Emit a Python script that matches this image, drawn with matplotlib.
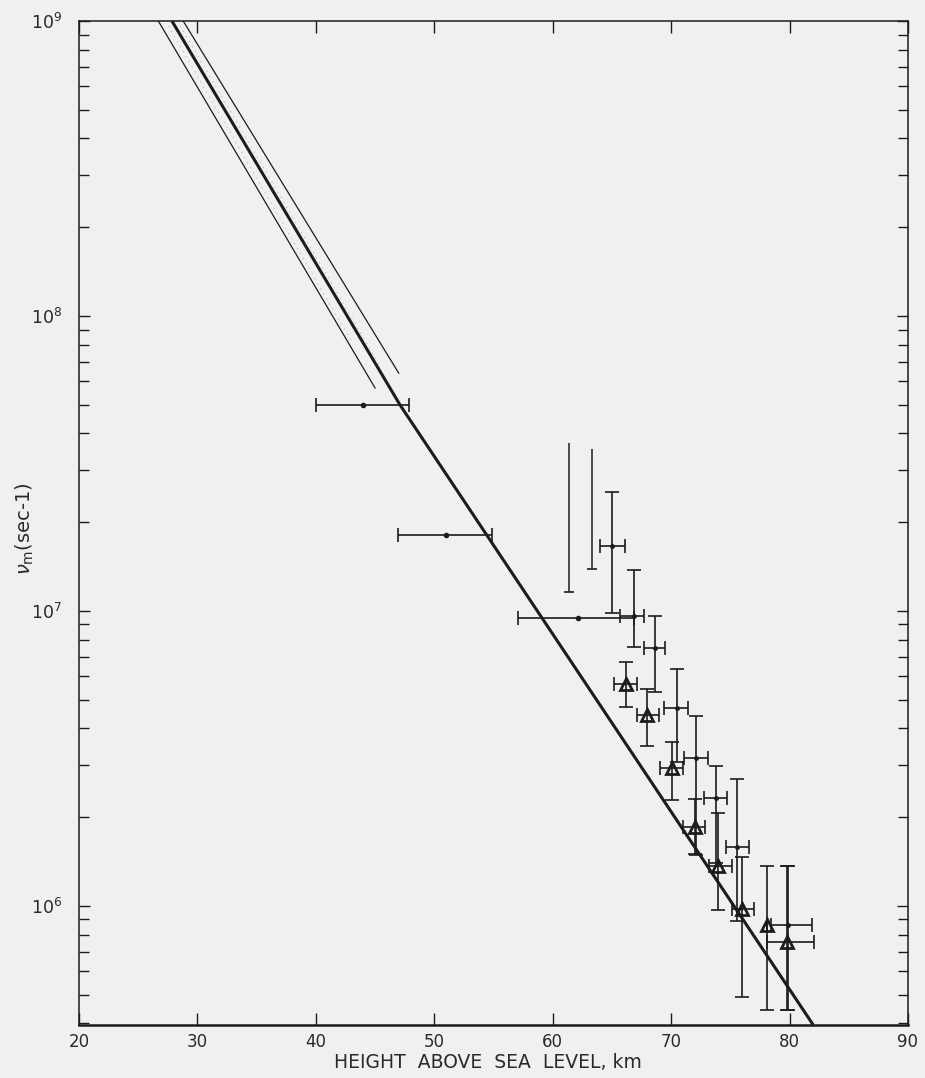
import matplotlib
matplotlib.use('Agg')
import matplotlib.pyplot as plt
import numpy as np
from matplotlib.ticker import LogLocator, FixedLocator, NullFormatter, FuncFormatter

# main curve (thick) and the two thin bounding curves
line_km = [27.85, 47.1, 82.0]
line_nu = [1.0e9, 5.0e7, 3.95e5]
upper_km = [28.8, 47.0]
upper_nu = [1.0e9, 6.4e7]
lower_km = [26.7, 45.0]
lower_nu = [1.0e9, 5.7e7]
dot_up_km = [28.3, 45.4]
dot_up_nu = [1.0e9, 6.8e7]
dot_lo_km = [27.3, 43.0]
dot_lo_nu = [1.0e9, 8.2e7]

# points with horizontal bars only
h_km = [44.0, 51.0, 62.1]
h_nu = [5.0e7, 1.81e7, 9.5e6]
h_lo = [40.0, 46.9, 57.1]
h_hi = [47.9, 54.9, 66.9]

# crosses (both bars)
c_km = [65.0, 66.9, 68.6, 70.5, 72.1, 73.75, 75.6, 79.85]
c_nu = [1.66e7, 9.6e6, 7.5e6, 4.69e6, 3.18e6, 2.32e6, 1.58e6, 8.6e5]
c_xlo = [64.0, 65.7, 67.7, 69.4, 71.1, 72.8, 74.6, 78.4]
c_xhi = [66.1, 67.7, 69.5, 71.4, 73.1, 74.7, 76.6, 81.9]
c_ylo = [9.86e6, 7.55e6, 5.3e6, 3.07e6, 1.49e6, 1.40e6, 8.9e5, 4.43e5]
c_yhi = [2.53e7, 1.38e7, 9.64e6, 6.36e6, 4.4e6, 2.99e6, 2.69e6, 1.37e6]

# vertical bars with no centre point
v_km = [61.4, 63.3]
v_lo = [1.16e7, 1.39e7]
v_hi = [3.72e7, 3.55e7]

# triangles
t_km = [66.2, 68.0, 70.1, 72.0, 74.0, 76.0, 78.1, 79.8]
t_nu = [5.65e6, 4.43e6, 2.94e6, 1.85e6, 1.37e6, 9.8e5, 8.6e5, 7.57e5]
t_xlo = [65.2, 67.1, 69.1, 71.0, 73.2, 75.1, 78.1, 78.1]
t_xhi = [67.1, 69.0, 71.0, 72.9, 75.1, 77.0, 78.1, 82.1]
t_ylo = [4.74e6, 3.48e6, 2.29e6, 1.5e6, 9.7e5, 4.9e5, 4.43e5, 4.43e5]
t_yhi = [6.7e6, 5.45e6, 3.6e6, 2.3e6, 2.06e6, 1.47e6, 1.37e6, 1.37e6]

ink = '#1c1c1c'
txt = '#2a2a2a'
bg = '#f0f0f0'
plt.rcParams['font.family'] = ['DejaVu Sans']

fig = plt.figure(figsize=(9.25, 10.78), dpi=100, facecolor=bg)
ax = fig.add_axes([0.0854, 0.0492, 0.8962, 0.9313], facecolor=bg)
ax.set_yscale('log')
ax.set_xlim(20, 90)
ax.set_ylim(3.95e5, 1e9)

ax.plot(line_km, line_nu, color=ink, lw=2.2, solid_capstyle='butt')
ax.plot(upper_km, upper_nu, color=ink, lw=0.9)
ax.plot(lower_km, lower_nu, color=ink, lw=0.9)
ax.plot(dot_up_km, dot_up_nu, color='#a5a5a5', lw=0.7, ls=(0, (1, 5)))
ax.plot(dot_lo_km, dot_lo_nu, color='#a5a5a5', lw=0.7, ls=(0, (1, 5)))

def spans(c, lo, hi):
    c = np.array(c); return [c - np.array(lo), np.array(hi) - c]

eb = dict(fmt='none', ecolor=ink, elinewidth=1.2, capsize=5, capthick=1.2)
ax.errorbar(h_km, h_nu, xerr=spans(h_km, h_lo, h_hi), **eb)
ax.plot(h_km, h_nu, 'o', ms=3, color=ink)
ax.errorbar(c_km, c_nu, xerr=spans(c_km, c_xlo, c_xhi), yerr=spans(c_nu, c_ylo, c_yhi), **eb)
ax.plot(c_km, c_nu, 'o', ms=2.5, color=ink)
ax.vlines(v_km, v_lo, v_hi, color=ink, lw=1.1)
ax.plot(v_km, v_lo, ls='none', marker='_', ms=7, mew=1.2, color=ink)
ax.errorbar(t_km, t_nu, xerr=spans(t_km, t_xlo, t_xhi), yerr=spans(t_nu, t_ylo, t_yhi), **eb)
ax.plot(t_km, t_nu, ls='none', marker='^', ms=9, mfc='none', mec=ink, mew=2.0)

# axes styling
ax.xaxis.set_major_locator(FixedLocator([20, 30, 40, 50, 60, 70, 80, 90]))
ax.yaxis.set_major_locator(LogLocator(base=10, numticks=20))
ax.yaxis.set_minor_locator(LogLocator(base=10, subs=np.arange(2, 10), numticks=20))
ax.yaxis.set_minor_formatter(NullFormatter())
ax.yaxis.set_major_formatter(FuncFormatter(lambda v, p: r'$\mathregular{10^{%d}}$' % round(np.log10(v))))
ax.tick_params(which='both', direction='in', top=True, right=True, colors=ink)
ax.tick_params(axis='x', which='major', length=8.5, width=1.0, labelsize=12, pad=6,
               labelcolor=txt)
ax.tick_params(axis='y', which='major', length=8, width=1.0, labelsize=12.5, pad=12,
               labelcolor=txt)
ax.tick_params(axis='y', which='minor', length=7.5, width=1.0)
for side in ['left', 'right', 'top']:
    ax.spines[side].set_linewidth(1.1)
    ax.spines[side].set_color(ink)
ax.spines['bottom'].set_linewidth(1.8)
ax.spines['bottom'].set_color(ink)

fig.text(488 / 925, 1 - 1063 / 1078, 'HEIGHT  ABOVE  SEA  LEVEL, km', ha='center', va='center',
         fontsize=13.5, color=txt)
fig.text(25 / 925, 1 - 529 / 1078, r'$\nu_{\mathregular{m}}$(sec-1)', rotation=90,
         ha='center', va='center', fontsize=14, color=txt)

fig.savefig('out.png', dpi=100, facecolor=bg)
